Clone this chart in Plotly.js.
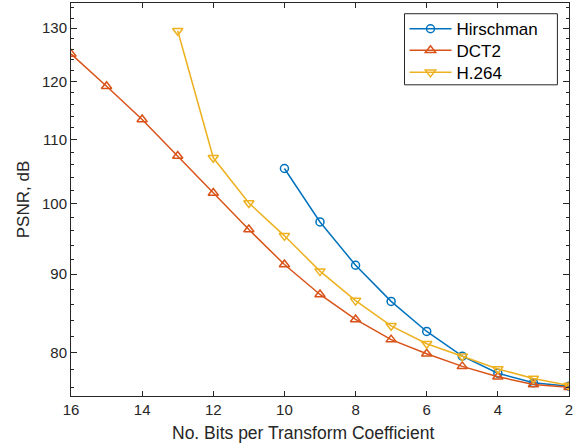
<!DOCTYPE html>
<html>
<head>
<meta charset="utf-8">
<script src="https://cdn.plot.ly/plotly-3.0.1.min.js"></script>
<style>
html,body{margin:0;padding:0;background:#fff;}
#chart{width:573px;height:446px;}
</style>
</head>
<body>
<div id="chart"></div>
<script>
var bitsHirschman = [10, 9, 8, 7, 6, 5, 4, 3, 2];
var psnrHirschman = [105.4, 97.3, 91.2, 86.4, 82.6, 79.6, 77.6, 76.5, 76.1];
var bitsDCT2 = [16, 15, 14, 13, 12, 11, 10, 9, 8, 7, 6, 5, 4, 3, 2];
var psnrDCT2 = [125.1, 119.2, 113.4, 107.4, 101.6, 96.2, 91.3, 87.3, 84.1, 81.6, 79.9, 78.4, 77.2, 76.3, 76.0];
var bitsH264 = [13, 12, 11, 10, 9, 8, 7, 6, 5, 4, 3, 2];
var psnrH264 = [129.5, 107.1, 100.1, 95.3, 90.4, 86.5, 83.3, 81.1, 79.6, 78.1, 77.0, 76.2];
var xTicks = [16, 14, 12, 10, 8, 6, 4, 2];
var yTicks = [80, 90, 100, 110, 120, 130];
var yAllTicks = [76, 78, 80, 82, 84, 86, 88, 90, 92, 94, 96, 98, 100, 102, 104, 106, 108, 110, 112, 114, 116, 118, 120, 122, 124, 126, 128, 130, 132, 134];
var yRange = [75, 135];
var xRange = [16, 2];
var xTitle = 'No. Bits per Transform Coefficient';
var yTitle = 'PSNR, dB';

var axisColor = '#262626';
var traces = [
  {x: bitsHirschman, y: psnrHirschman, name: 'Hirschman', type: 'scatter', mode: 'lines+markers',
   legend: 'legend',
   line: {color: '#0072BD', width: 1.5},
   marker: {symbol: 'circle-open', size: 8, color: '#0072BD', line: {width: 1.5, color: '#0072BD'}}},
  {x: bitsDCT2, y: psnrDCT2, name: 'DCT2', type: 'scatter', mode: 'lines+markers',
   legend: 'legend2',
   line: {color: '#D95319', width: 1.5},
   marker: {symbol: 'triangle-up-open', size: 9, color: '#D95319', line: {width: 1.5, color: '#D95319'}}},
  {x: bitsH264, y: psnrH264, name: 'H.264', type: 'scatter', mode: 'lines+markers',
   legend: 'legend3', yaxis: 'y2',
   line: {color: '#EDB120', width: 1.5},
   marker: {symbol: 'triangle-down-open', size: 9, color: '#EDB120', line: {width: 1.5, color: '#EDB120'}}}
];

var logRange = [Math.log10(yRange[0]), Math.log10(yRange[1])];
function legendAt(yTop) {
  return {x: 0.6697, y: yTop, xanchor: 'left', yanchor: 'top',
          bgcolor: 'rgba(0,0,0,0)', borderwidth: 0,
          font: {size: 17, color: '#000'}, itemwidth: 42, tracegroupgap: 0};
}

var layout = {
  width: 573, height: 446,
  margin: {l: 71, r: 4, t: 3, b: 50},
  paper_bgcolor: '#fff', plot_bgcolor: '#fff',
  font: {family: 'Liberation Sans, Arial, sans-serif', color: axisColor, size: 15},
  showlegend: true,
  legend: legendAt(0.9791),
  legend2: legendAt(0.9243),
  legend3: legendAt(0.8682),
  shapes: [
    {type: 'rect', xref: 'paper', yref: 'paper', x0: 0.6697, x1: 0.9767, y0: 0.7918, y1: 0.9727,
     line: {color: axisColor, width: 1}, fillcolor: '#fff', layer: 'above'}
  ],
  annotations: [
    {text: xTitle, xref: 'paper', yref: 'paper', x: 0.4656, y: 0, yanchor: 'middle', xanchor: 'center',
     yshift: -37, showarrow: false, font: {size: 17.5, color: axisColor}}
  ],
  xaxis: {range: xRange, tickmode: 'array', tickvals: xTicks, ticktext: xTicks.map(String),
          ticks: 'inside', ticklen: 5, tickwidth: 1, tickcolor: axisColor,
          showline: true, linecolor: axisColor, linewidth: 1, mirror: 'ticks',
          showgrid: false, zeroline: false, ticklabeloverflow: 'allow',
          tickfont: {size: 15, color: axisColor}},
  yaxis: {type: 'log', range: logRange,
          tickmode: 'array', tickvals: yAllTicks,
          ticktext: yAllTicks.map(function (v) { return yTicks.indexOf(v) >= 0 ? String(v) : ''; }),
          ticks: 'inside', ticklen: 3, tickwidth: 1, tickcolor: axisColor,
          showline: true, linecolor: axisColor, linewidth: 1, mirror: 'ticks',
          showgrid: false, zeroline: false,
          tickfont: {size: 15, color: axisColor},
          title: {text: yTitle, font: {size: 17, color: axisColor}, standoff: 8}},
  yaxis2: {type: 'log', range: logRange, overlaying: 'y', anchor: 'x', side: 'left',
           tickmode: 'array', tickvals: yTicks, showticklabels: false,
           ticks: 'inside', ticklen: 6, tickwidth: 1, tickcolor: axisColor,
           showline: true, linecolor: axisColor, linewidth: 1, mirror: 'ticks',
           showgrid: false, zeroline: false}
};

Plotly.newPlot('chart', traces, layout, {displayModeBar: false, staticPlot: true});
</script>
</body>
</html>
